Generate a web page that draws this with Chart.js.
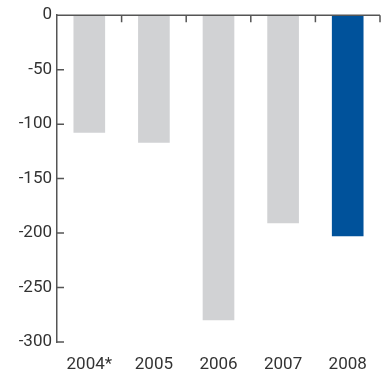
<!DOCTYPE html>
<html>
<head>
<meta charset="utf-8">
<script src="https://cdn.jsdelivr.net/npm/chart.js@4/dist/chart.umd.min.js"></script>
<style>
  html, body { margin: 0; padding: 0; background: #fff; }
  #wrap { width: 385px; height: 372px; }
</style>
</head>
<body>
<div id="wrap"><canvas id="myChart"></canvas></div>
<script>
const years = ['2004*', '2005', '2006', '2007', '2008'];
const values = [-108, -117, -280, -191, -203];
const barColors = ['#d1d2d4', '#d1d2d4', '#d1d2d4', '#d1d2d4', '#00529b'];
const yTicks = [0, -50, -100, -150, -200, -250, -300];

const axisColor = '#555555';
const tickLen = 7;

// zero line along the top + tick marks pointing into the plot
const innerTicks = {
  id: 'innerTicks',
  afterDraw(chart) {
    const c = chart.ctx;
    const x = chart.scales.x;
    const y = chart.scales.y;
    const area = chart.chartArea;
    const zeroY = y.getPixelForValue(0);
    const step = x.getPixelForValue(1) - x.getPixelForValue(0);
    c.save();
    c.strokeStyle = axisColor;
    c.lineWidth = 1.5;
    c.beginPath();
    c.moveTo(area.left, zeroY);
    c.lineTo(area.right, zeroY);
    // ticks between the years
    for (let i = 0; i < years.length; i++) {
      const edge = x.getPixelForValue(i) + step / 2;
      c.moveTo(edge, zeroY);
      c.lineTo(edge, zeroY + tickLen);
    }
    yTicks.forEach(v => {
      const py = y.getPixelForValue(v);
      c.moveTo(area.left, py);
      c.lineTo(area.left + tickLen, py);
    });
    c.stroke();
    c.restore();
  }
};

const ctx = document.getElementById('myChart').getContext('2d');
const myChart = new Chart(ctx, {
  type: 'bar',
  data: {
    labels: years,
    datasets: [{
      data: values,
      backgroundColor: barColors,
      borderWidth: 0,
      categoryPercentage: 1,
      barPercentage: 0.49
    }]
  },
  options: {
    responsive: true,
    maintainAspectRatio: false,
    animation: false,
    layout: { padding: { top: 13, right: 5, left: 0, bottom: 0 } },
    plugins: {
      legend: { display: false },
      tooltip: { enabled: false }
    },
    scales: {
      x: {
        grid: { display: false, drawTicks: false },
        border: { display: false },
        ticks: {
          color: '#333333',
          padding: 13,
          font: { family: 'Roboto', size: 17 }
        },
        afterFit(scale) { scale.height = 30; }
      },
      y: {
        min: -300,
        max: 0,
        grid: { display: false, drawTicks: false },
        border: { display: true, color: axisColor, width: 1.5 },
        ticks: {
          stepSize: 50,
          color: '#333333',
          padding: 5,
          font: { family: 'Roboto', size: 17 }
        },
        afterFit(scale) { scale.width = 57; }
      }
    }
  },
  plugins: [innerTicks]
});
</script>
</body>
</html>
